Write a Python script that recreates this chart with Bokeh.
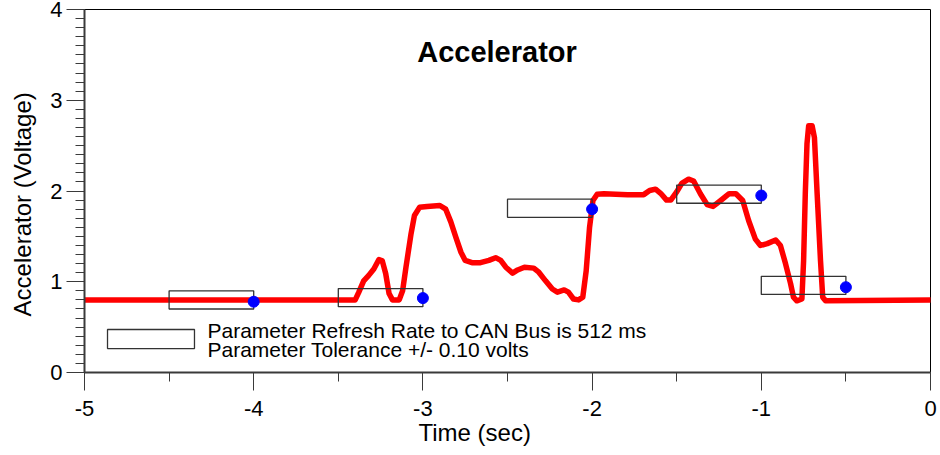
from bokeh.plotting import figure
from bokeh.models import Range1d, SingleIntervalTicker, Label, Title
from bokeh.embed import file_html
from bokeh.resources import INLINE

# ---- data ----
time_s = [-5.0, -3.40, -3.38, -3.35, -3.32, -3.29, -3.26, -3.24, -3.22, -3.20,
          -3.18, -3.14, -3.12, -3.10, -3.07, -3.05, -3.02, -2.975, -2.90, -2.865,
          -2.835, -2.805, -2.775, -2.75, -2.71, -2.66, -2.61, -2.57, -2.54, -2.51,
          -2.47, -2.44, -2.40, -2.345, -2.315, -2.275, -2.235, -2.205, -2.165, -2.14,
          -2.11, -2.08, -2.055, -2.035, -2.015, -1.995, -1.97, -1.93, -1.79, -1.695,
          -1.66, -1.625, -1.595, -1.56, -1.535, -1.50, -1.47, -1.43, -1.40, -1.36,
          -1.32, -1.285, -1.24, -1.19, -1.15, -1.11, -1.075, -1.035, -1.005, -0.965,
          -0.915, -0.887, -0.857, -0.827, -0.81, -0.79, -0.76, -0.75, -0.74, -0.73,
          -0.72, -0.70, -0.686, -0.67, -0.65, -0.637, -0.62, 0.0]
volts = [0.80, 0.80, 0.88, 1.01, 1.07, 1.14, 1.245, 1.23, 1.09, 0.87,
         0.80, 0.80, 0.90, 1.16, 1.53, 1.73, 1.82, 1.83, 1.84, 1.80,
         1.66, 1.49, 1.325, 1.235, 1.21, 1.21, 1.235, 1.265, 1.235, 1.16,
         1.095, 1.13, 1.16, 1.15, 1.105, 1.01, 0.92, 0.885, 0.91, 0.885,
         0.81, 0.80, 0.83, 1.12, 1.60, 1.895, 1.965, 1.97, 1.96, 1.96,
         2.005, 2.02, 1.975, 1.90, 1.90, 1.99, 2.085, 2.13, 2.11, 1.97,
         1.85, 1.83, 1.895, 1.97, 1.97, 1.895, 1.675, 1.47, 1.40, 1.42,
         1.46, 1.40, 1.20, 0.98, 0.83, 0.79, 0.81, 1.23, 1.97, 2.52,
         2.72, 2.72, 2.59, 1.97, 1.23, 0.83, 0.79, 0.80]

sample_t = [-4.0, -3.0, -2.0, -1.0, -0.5]
sample_v = [0.78, 0.82, 1.80, 1.95, 0.94]
window_center = [0.80, 0.825, 1.81, 1.965, 0.96]
refresh_s = 0.5
tolerance = 0.10

x_ticks = [-5, -4, -3, -2, -1, 0]
x_tick_labels = ["-5", "-4", "-3", "-2", "-1", "0"]
y_ticks = [0, 1, 2, 3, 4]
y_tick_labels = ["0", "1", "2", "3", "4"]

title_text = "Accelerator"
x_label = "Time (sec)"
y_label = "Accelerator (Voltage)"
legend_lines = ["Parameter Refresh Rate to CAN Bus is 512 ms",
                "Parameter Tolerance +/- 0.10 volts"]

FONT = "Liberation Sans"
AXIS_GREY = "#3a3a3a"

p = figure(width=940, height=455, x_range=Range1d(-5, 0), y_range=Range1d(0, 4),
           output_backend="svg", toolbar_location=None,
           min_border_left=84, min_border_right=10, min_border_top=9, min_border_bottom=83)
p.background_fill_color = "white"
p.border_fill_color = "white"
p.outline_line_color = "black"
p.outline_line_width = 1
p.grid.visible = False

p.xaxis.ticker = SingleIntervalTicker(interval=1, num_minor_ticks=2)
p.yaxis.ticker = SingleIntervalTicker(interval=1, num_minor_ticks=10)
p.xaxis.major_label_overrides = {t: s for t, s in zip(x_ticks, x_tick_labels)}
p.yaxis.major_label_overrides = {t: s for t, s in zip(y_ticks, y_tick_labels)}

for ax in (p.xaxis[0], p.yaxis[0]):
    ax.axis_line_color = AXIS_GREY
    ax.axis_line_width = 2
    ax.major_tick_line_color = AXIS_GREY
    ax.minor_tick_line_color = AXIS_GREY
    ax.major_tick_line_width = 1
    ax.minor_tick_line_width = 1
    ax.major_tick_in = 0
    ax.minor_tick_in = 0
    ax.major_tick_out = 18
    ax.minor_tick_out = 9
    ax.major_label_text_font = FONT
    ax.major_label_text_font_size = "22px"
    ax.major_label_text_color = "black"
    ax.axis_label_text_font = FONT
    ax.axis_label_text_font_size = "24px"
    ax.axis_label_text_font_style = "normal"
    ax.axis_label_text_color = "black"
p.xaxis.major_label_standoff = 10
p.yaxis.major_label_standoff = 4

# y-axis title (trailing no-break spaces shift the visible text down to match)
p.yaxis.axis_label = y_label + "\u00a0" * 4
p.yaxis.axis_label_standoff = 11

# x-axis title placed as a below-panel title
p.add_layout(Title(text=x_label, align="left", offset=334, vertical_align="top",
                   standoff=0, text_font=FONT, text_font_size="24px",
                   text_font_style="normal", text_color="black"), "below")

# red trace
p.line(time_s, volts, line_color="#ff0000", line_width=5.5,
       line_join="round", line_cap="round")

# refresh-window / tolerance boxes
p.quad(left=[t - refresh_s for t in sample_t], right=sample_t,
       bottom=[c - tolerance for c in window_center],
       top=[c + tolerance for c in window_center],
       fill_color=None, line_color="#333333", line_width=1.3)

# sampled values
p.scatter(sample_t, sample_v, size=11, color="#0000ff")

# legend
p.quad(left=[-4.864], right=[-4.35], bottom=[0.264], top=[0.474],
       fill_color=None, line_color="#333333", line_width=1.3)
for i, txt in enumerate(legend_lines):
    p.add_layout(Label(x=-4.273, y=0.463 - 0.21 * i, text=txt, text_font=FONT,
                       text_font_size="21px", text_color="black",
                       text_baseline="alphabetic", text_align="left"))

# chart title inside the plot
p.add_layout(Label(x=-2.562, y=3.537, text=title_text, text_font=FONT,
                   text_font_size="29px", text_font_style="bold", text_color="black",
                   text_align="center", text_baseline="alphabetic"))

open("out.html", "w").write(file_html(p, INLINE))
